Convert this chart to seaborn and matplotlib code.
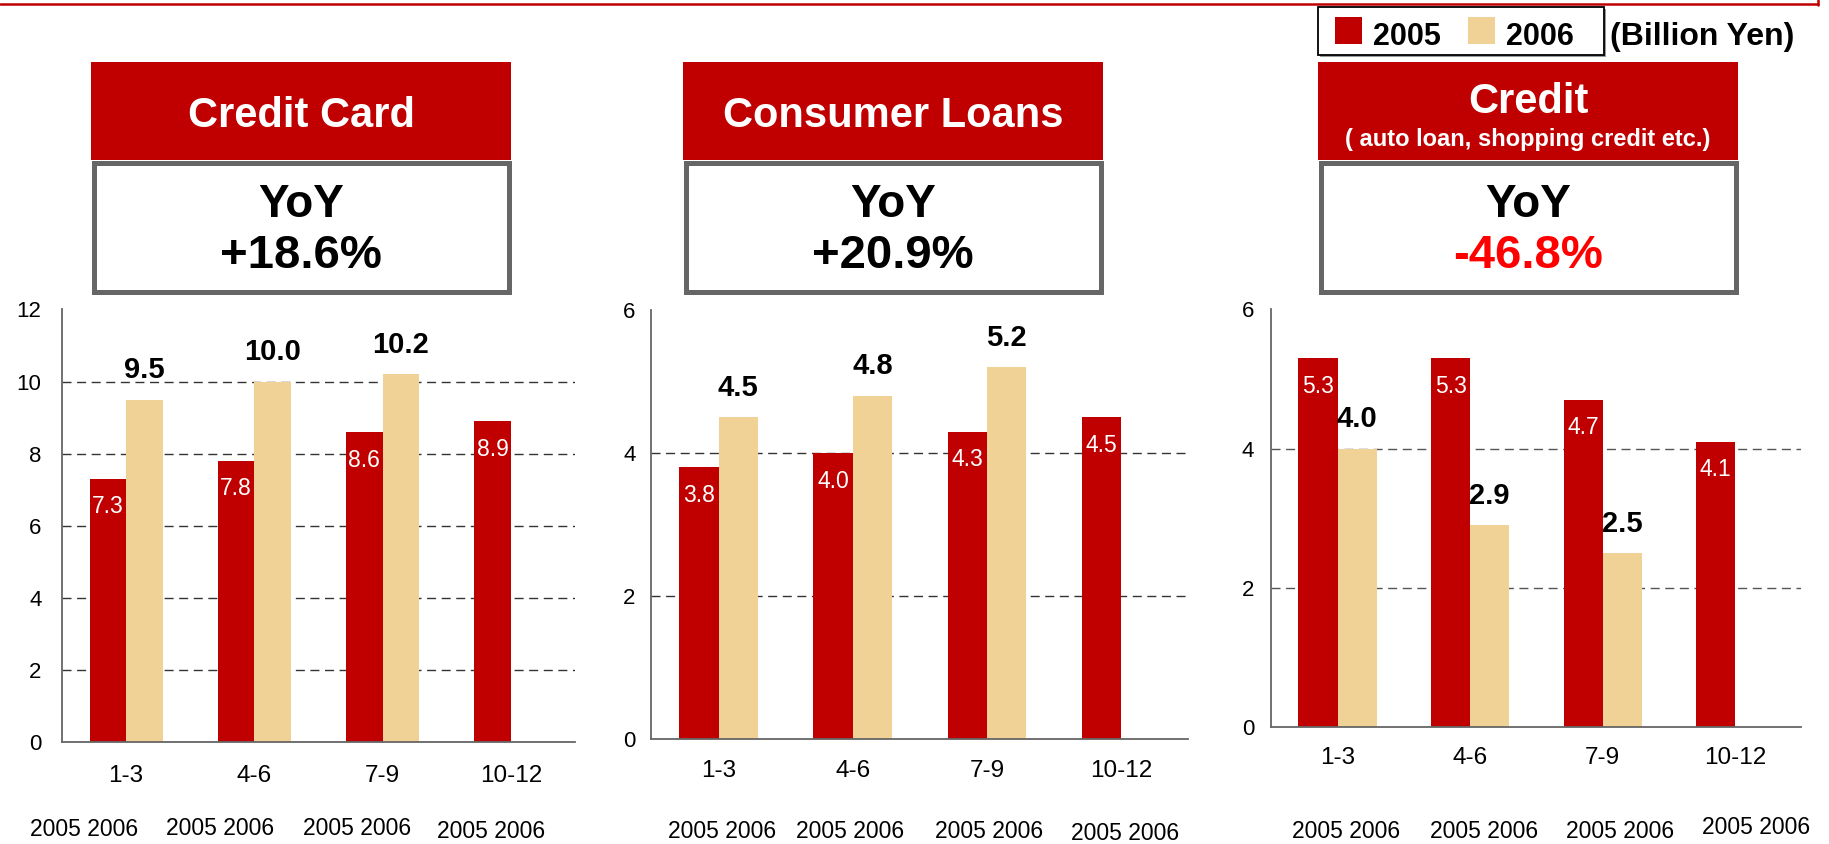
import numpy as np
import pandas as pd
import matplotlib
matplotlib.use("Agg")
import matplotlib.pyplot as plt
import matplotlib.transforms as mtransforms
from matplotlib.colors import same_color
from matplotlib.patches import Rectangle
from matplotlib.lines import Line2D
import seaborn as sns

# ---- data (billion yen, by quarter) ----
quarters = ["1-3", "4-6", "7-9", "10-12"]
years = ["2005", "2006"]

card_2005 = [7.3, 7.8, 8.6, 8.9]
card_2006 = [9.5, 10.0, 10.2]
loans_2005 = [3.8, 4.0, 4.3, 4.5]
loans_2006 = [4.5, 4.8, 5.2]
credit_2005 = [5.3, 5.3, 4.7, 4.1]
credit_2006 = [4.0, 2.9, 2.5]

titles = ["Credit Card", "Consumer Loans", "Credit"]
credit_note = "( auto loan, shopping credit etc.)"
yoy_values = ["+18.6%", "+20.9%", "-46.8%"]
y_max = [12, 6, 6]
unit_label = "(Billion Yen)"
year_pair_label = "2005 2006"

# ---- styling ----
RED = "#C00000"
TAN = "#F0D296"
AXIS_GRAY = "#666666"
W, H = 1829, 844

sns.set_theme(style="white")
plt.rcParams["font.family"] = ["Liberation Sans", "DejaVu Sans"]

fig = plt.figure(figsize=(W / 100, H / 100), dpi=100)


def fx(px):
    return px / W


def fy(py):
    return 1 - py / H


def pt(px):
    return px * 0.72


# panel layout in pixels: axes box (left, top, right, bottom), header box x-range
panels = [
    dict(axes=(62, 309.4, 575, 742.3), box=(91, 511), bar_w=0.57, grid="#333333",
         ypad=pt(20.5), xpad=pt(39.5),
         pair_x=[-0.329, 0.734, 1.80, 2.845], pair_y=[836.5, 835, 835, 838],
         s2005=card_2005, s2006=card_2006),
    dict(axes=(651.4, 310.1, 1188.3, 738.8), box=(683, 1103), bar_w=0.587,
         grid="#333333", ypad=pt(16), xpad=pt(38.2),
         pair_x=[0.03, 0.979, 2.013, 3.03], pair_y=[838, 838, 838, 839.5],
         s2005=loans_2005, s2006=loans_2006),
    dict(axes=(1271.3, 309.4, 1801.4, 727.1), box=(1318, 1738), bar_w=0.59,
         grid="#555555", ypad=pt(17), xpad=pt(36.4),
         pair_x=[0.063, 1.109, 2.129, 3.157], pair_y=[838, 838, 838, 834],
         s2005=credit_2005, s2006=credit_2006),
]

for k, p in enumerate(panels):
    x0, y0, x1, y1 = p["axes"]
    ax = fig.add_axes([fx(x0), fy(y1), (x1 - x0) / W, (y1 - y0) / H])

    rows = [(q, "2005", v) for q, v in zip(quarters, p["s2005"])]
    rows += [(q, "2006", v) for q, v in zip(quarters, p["s2006"])]
    df = pd.DataFrame(rows, columns=["quarter", "year", "value"])

    sns.barplot(data=df, x="quarter", y="value", hue="year", order=quarters,
                hue_order=years, palette=[RED, TAN], width=p["bar_w"],
                saturation=1, errorbar=None, legend=False, ax=ax,
                linewidth=0, zorder=3)

    ax.set_xlim(-0.5, 3.5)
    ax.set_ylim(0, y_max[k])
    ax.set_xlabel("")
    ax.set_ylabel("")
    ax.set_facecolor("none")

    for side in ("top", "right"):
        ax.spines[side].set_visible(False)
    for side in ("left", "bottom"):
        ax.spines[side].set_color(AXIS_GRAY)
        ax.spines[side].set_linewidth(1.3)
        ax.spines[side].set_zorder(4)

    # category boundaries carry the ticks, centres carry the labels
    bounds = np.arange(-0.5, 4.0, 1.0)
    ax.set_xticks(bounds, labels=[""] * len(bounds))
    ax.set_xticks(np.arange(len(quarters)), labels=quarters, minor=True)
    ax.tick_params(axis="x", which="major", direction="in", length=pt(9),
                   width=1.2, color=AXIS_GRAY)
    ax.tick_params(axis="x", which="minor", length=0, pad=p["xpad"],
                   labelsize=17.5, labelcolor="black")
    for t in ax.get_xticklabels(minor=True):
        t.set_va("baseline")

    yt = np.arange(0, y_max[k] + 1, 2)
    ax.set_yticks(yt)
    ax.tick_params(axis="y", direction="in", length=pt(9), width=1.2,
                   color=AXIS_GRAY, pad=p["ypad"], labelsize=16,
                   labelcolor="black")

    for v in yt[1:-1]:
        ax.axhline(v, color=p["grid"], lw=1.0, ls=(0, (6.5, 4.0)), zorder=1)

    # value labels: white inside the 2005 bars, bold black above the 2006 bars
    for bar in ax.patches:
        h = bar.get_height()
        if not np.isfinite(h) or h == 0:
            continue
        cx = bar.get_x() + bar.get_width() / 2
        if same_color(bar.get_facecolor(), RED):
            ax.annotate(f"{h:.1f}", (cx, h), xytext=(0, -pt(34.5)),
                        textcoords="offset points", ha="center", va="baseline",
                        color="white", fontsize=16.5, zorder=5)
        else:
            ax.annotate(f"{h:.1f}", (cx, h), xytext=(0, pt(21.5)),
                        textcoords="offset points", ha="center", va="baseline",
                        color="black", fontsize=21, fontweight="bold", zorder=5)

    # year pair captions under each quarter
    trans = mtransforms.blended_transform_factory(ax.transData, fig.transFigure)
    for xp, yp in zip(p["pair_x"], p["pair_y"]):
        ax.text(xp, fy(yp), year_pair_label, transform=trans, ha="center",
                va="baseline", fontsize=16.5, color="black", clip_on=False)

    # header: red title band above a grey-framed YoY box
    bx0, bx1 = p["box"]
    cx = (bx0 + bx1) / 2
    fig.patches.append(Rectangle((fx(bx0), fy(160)), (bx1 - bx0) / W, 98 / H,
                                 transform=fig.transFigure, facecolor=RED,
                                 edgecolor="none"))
    bw = 5
    fig.patches.append(Rectangle((fx(bx0 + bw / 2), fy(294 - bw / 2)),
                                 (bx1 - bx0 - bw) / W, (134 - bw) / H,
                                 transform=fig.transFigure, facecolor="white",
                                 edgecolor=AXIS_GRAY, linewidth=pt(bw)))
    if k < 2:
        fig.text(fx(cx), fy(127), titles[k], ha="center", va="baseline",
                 color="white", fontsize=30, fontweight="bold")
    else:
        fig.text(fx(cx), fy(113), titles[k], ha="center", va="baseline",
                 color="white", fontsize=30, fontweight="bold")
        fig.text(fx(cx), fy(146), credit_note, ha="center", va="baseline",
                 color="white", fontsize=17, fontweight="bold")
    fig.text(fx(cx), fy(217), "YoY", ha="center", va="baseline",
             color="black", fontsize=33, fontweight="bold")
    pct_color = "#FF0000" if yoy_values[k].startswith("-") else "black"
    fig.text(fx(cx), fy(268), yoy_values[k], ha="center", va="baseline",
             color=pct_color, fontsize=34, fontweight="bold")

# series key: framed box with a colour swatch per year
lx0, ly0, lx1, ly1 = 1317.5, 7, 1603.5, 55
fig.patches.append(Rectangle((fx(lx0 + 2), fy(ly1 + 2)), (lx1 - lx0) / W,
                             (ly1 - ly0) / H, transform=fig.transFigure,
                             facecolor="#9a9a9a", edgecolor="none"))
fig.patches.append(Rectangle((fx(lx0), fy(ly1)), (lx1 - lx0) / W, (ly1 - ly0) / H,
                             transform=fig.transFigure, facecolor="white",
                             edgecolor="black", linewidth=1.3))
for sx, tx, col, yr in [(1335, 1372.5, RED, years[0]), (1468, 1506, TAN, years[1])]:
    fig.patches.append(Rectangle((fx(sx), fy(44)), 27 / W, 27 / H,
                                 transform=fig.transFigure, facecolor=col,
                                 edgecolor="none"))
    fig.text(fx(tx), fy(45), yr, ha="left", va="baseline", fontsize=22,
             fontweight="bold", color="black")
fig.text(fx(1610), fy(45), unit_label, ha="left", va="baseline",
         fontsize=23, fontweight="bold", color="black")

# thin red frame edge along the top
fig.add_artist(Line2D([0, fx(1818)], [fy(3.8), fy(3.8)], color=RED, lw=1.8))
fig.add_artist(Line2D([fx(1818), fx(1818)], [1, fy(4.5)], color=RED, lw=1.8))

fig.savefig("out.png", dpi=100)
